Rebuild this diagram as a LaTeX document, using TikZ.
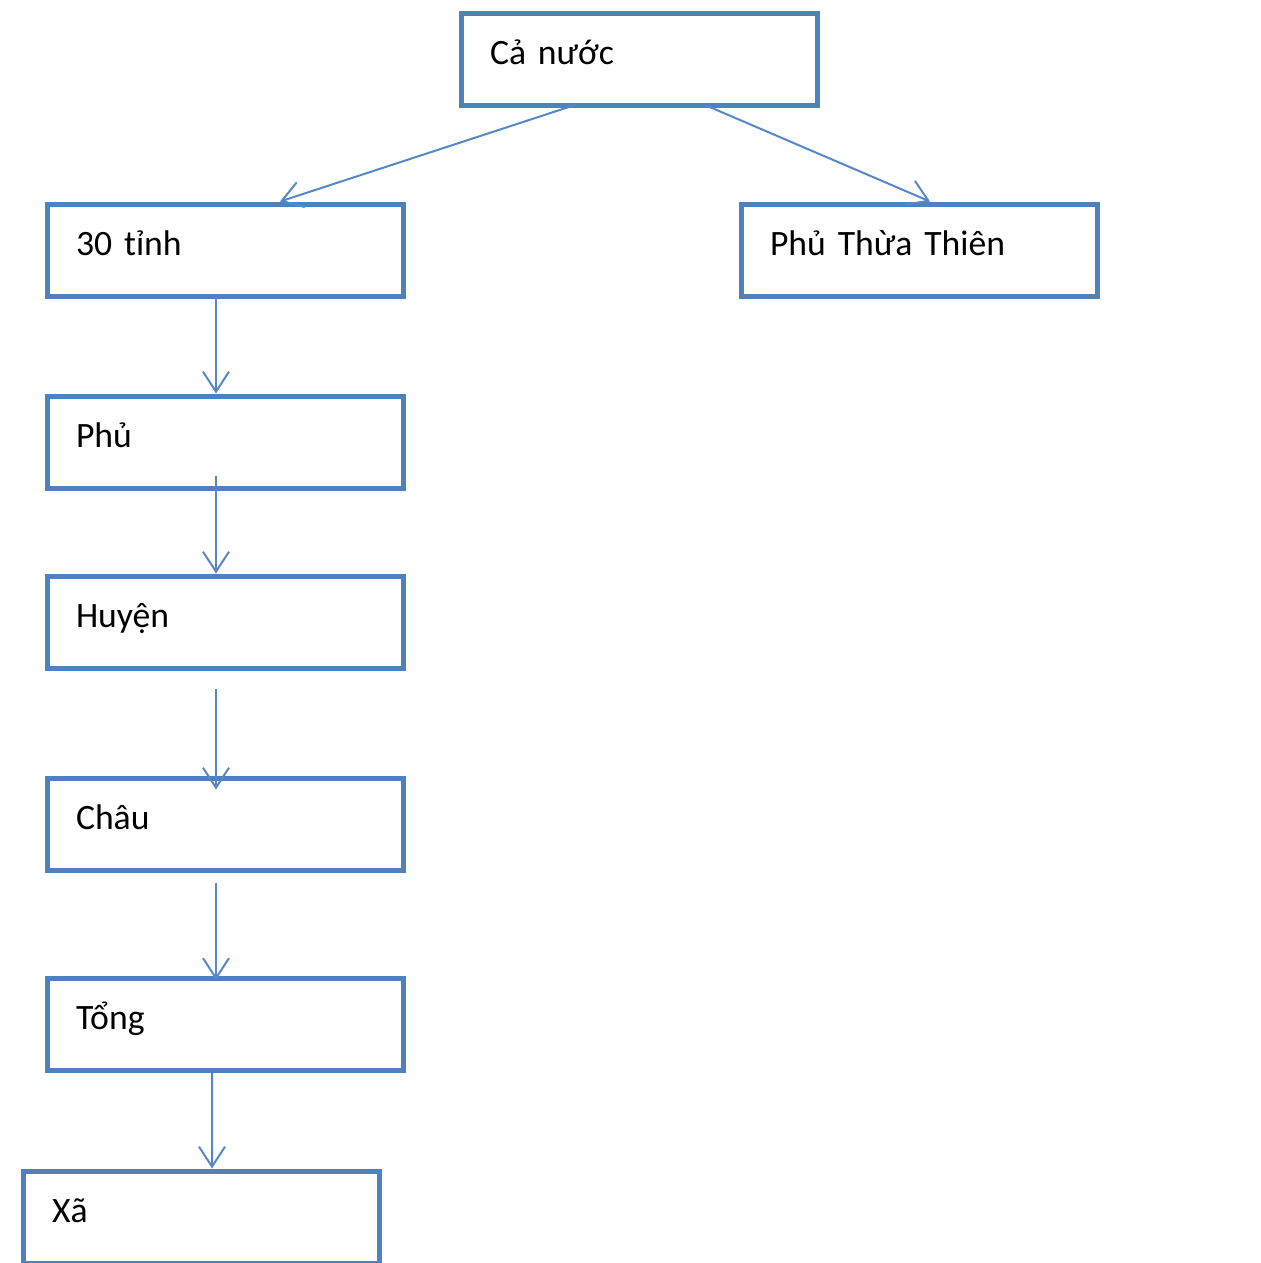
\documentclass[tikz,border=0pt]{standalone}
\usepackage{fontspec}
\setmainfont{Carlito}
\definecolor{boxline}{RGB}{79, 129, 189}
\definecolor{linkline}{RGB}{84, 136, 200}
\usetikzlibrary{arrows.meta}

\begin{document}
\begin{tikzpicture}[
      level/.style={draw=boxline, line width=0.1cm, text width=5.96cm, align=left,
        inner xsep=0.58cm, inner ysep=0pt, text height=1.02cm, text depth=0.82cm,
        font=\fontsize{20.3}{24}\selectfont},
      link/.style={draw=linkline, line width=0.04cm, -{Straight Barb[length=0.4cm, width=0.52cm]}}
    ]
      \useasboundingbox (0,0) rectangle (25.2,-25.26);

      % Levels
      \node[level] (canuoc) at (12.78,-1.19) {Cả nước};
      \node[level] (tinh) at (4.5,-5.0) {30 tỉnh};
      \node[level] (thuathien) at (18.38,-5.0) {Phủ Thừa Thiên};
      \node[level] (phu) at (4.5,-8.84) {Phủ};
      \node[level] (huyen) at (4.5,-12.44) {Huyện};
      \node[level] (chau) at (4.5,-16.48) {Châu};
      \node[level] (tong) at (4.5,-20.49) {Tổng};
      \node[level] (xa) at (4.02,-24.34) {Xã};

      % Arrows
      \draw[link] ([shift={(-1.28,0.06)}]canuoc.south) -- ([xshift=1.1cm]tinh.north);
      \draw[link] ([shift={(1.32,0.06)}]canuoc.south) -- ([xshift=0.22cm]thuathien.north);
      \draw[link] ([shift={(-0.18,0.06)}]tinh.south) -- ([xshift=-0.18cm]phu.north);
      \draw[link] ([shift={(-0.18,0.3)}]phu.south) -- ([xshift=-0.18cm]huyen.north);
      \draw[link] ([shift={(-0.18,-0.36)}]huyen.south) -- ([yshift=-0.28cm, xshift=-0.18cm]chau.north);
      \draw[link] ([shift={(-0.18,-0.2)}]chau.south) -- ([yshift=-0.08cm, xshift=-0.18cm]tong.north);
      \draw[link] ([xshift=-0.26cm]tong.south) -- ([xshift=0.22cm]xa.north);
    \end{tikzpicture}
\end{document}
